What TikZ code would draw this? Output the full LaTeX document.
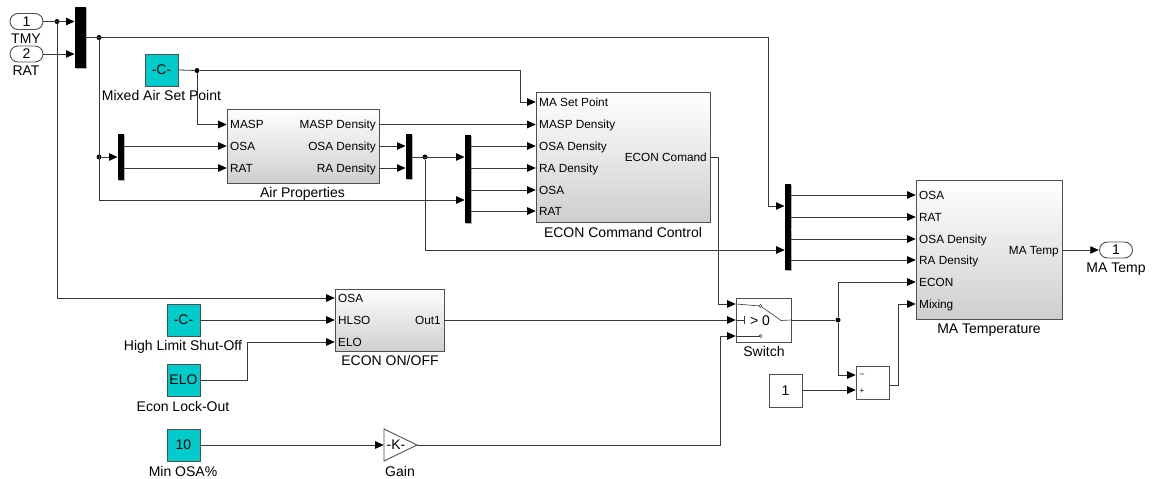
\documentclass[tikz,border=0pt]{standalone}
\usepackage{fontspec}
\setmainfont{Liberation Sans}
\usetikzlibrary{arrows.meta,shadows,shapes.misc}
\definecolor{teal2}{RGB}{0,204,204}
\definecolor{edge}{RGB}{80,80,80}
\definecolor{wirec}{RGB}{55,55,55}
\tikzset{
  wire/.style={draw=wirec,line width=0.8pt,line join=miter},
  arr/.style={wire,-{Triangle[length=8.5pt,width=7.5pt,fill=black,color=black]},shorten >=0.3pt},
  shd/.style={drop shadow={shadow xshift=1.2pt,shadow yshift=-1.2pt,fill=black!55,opacity=.55}},
  blk/.style={draw=edge,line width=0.9pt,inner sep=0pt,top color=white,middle color=white,bottom color=black!19,shd},
  cst/.style={draw=edge,line width=0.9pt,inner sep=0pt,fill=teal2,shd},
  plain/.style={draw=edge,line width=0.9pt,inner sep=0pt,fill=white,shd},
  mux/.style={fill=black,inner sep=0pt,shd},
  portl/.style={inner sep=0pt,font=\fontsize{11.8}{12}\selectfont},
  title/.style={inner sep=0pt,anchor=base,yshift=-5pt,font=\fontsize{14}{14}\selectfont},
  midtext/.style={inner sep=0pt,font=\fontsize{14}{14}\selectfont},
  iop/.style={rounded rectangle,draw=edge,line width=0.9pt,fill=white,inner sep=0pt,minimum width=33pt,minimum height=16pt,font=\fontsize{14}{14}\selectfont},
  dot/.style={circle,fill=black,inner sep=0pt,minimum size=5pt},
}
\newcommand\bx[7][]{\node[#2,minimum width={(#5-#3)*1pt},minimum height={(#6-#4)*1pt},#1] (#7) at ({(#3+#5)/2},{(#4+#6)/2}) {};}
\newcommand\pinL[4]{\coordinate (#1) at (#2,#3); \node[portl,anchor=base west,yshift=-4.2pt] (#1L) at (#2+3,#3) {#4};}
\newcommand\pinR[4]{\coordinate (#1) at (#2,#3); \node[portl,anchor=base east,yshift=-4.2pt] (#1L) at (#2-3,#3) {#4};}
\begin{document}
\begin{tikzpicture}[x=1pt,y=-1pt]
\useasboundingbox (0,0) rectangle (1152,479);
% inports
\node[iop] (in1) at (26.5,21.5) {1};
\node[iop] (in2) at (26.5,54) {2};
\node[title] (in1t) at (26,38.3) {TMY};
\node[title] (in2t) at (26,70.7) {RAT};
% muxes
\bx{mux}{75}{7}{86}{68}{m1}
\bx{mux}{118}{134}{124}{180}{m2}
\bx{mux}{406}{134}{412}{179}{m3}
\bx{mux}{465}{135}{471}{223}{m4}
\bx{mux}{785}{184}{791}{227.7}{m5}
\bx{mux}{785}{228.3}{791}{270}{m6}
% constants
\bx{cst}{145}{54}{178}{86}{c1}
\node[midtext] (c1l) at (c1) {-C-};
\node[title] (c1t) at (161.5,95.7) {Mixed Air Set Point};
\bx{cst}{167}{304}{200}{336}{c2}
\node[midtext] (c2l) at (c2) {-C-};
\node[title] (c2t) at (183,345.7) {High Limit Shut-Off};
\bx{cst}{167}{364}{200}{396}{c3}
\node[midtext] (c3l) at (c3) {ELO};
\node[title] (c3t) at (183,406) {Econ Lock-Out};
\bx{cst}{167}{429}{200}{461}{c4}
\node[midtext] (c4l) at (c4) {10};
\node[title] (c4t) at (183,471) {Min OSA\%};
% Air Properties
\bx{blk}{227}{109}{379}{183}{air}
\pinL{aA}{227}{124.5}{MASP}
\pinL{aB}{227}{146}{OSA}
\pinL{aC}{227}{168}{RAT}
\pinR{aX}{379}{124.5}{MASP Density}
\pinR{aY}{379}{146}{OSA Density}
\pinR{aZ}{379}{168}{RA Density}
\node[title] (airt) at (302.5,192.5) {Air Properties};
% ECON Command Control
\bx{blk}{536}{92}{710}{222}{ecc}
\pinL{eA}{536}{102}{MA Set Point}
\pinL{eB}{536}{124.5}{MASP Density}
\pinL{eC}{536}{146}{OSA Density}
\pinL{eD}{536}{168}{RA Density}
\pinL{eE}{536}{190}{OSA}
\pinL{eF}{536}{211}{RAT}
\pinR{eX}{710}{157}{ECON Comand}
\node[title] (ecct) at (623,232) {ECON Command Control};
% MA Temperature
\bx{blk}{916}{180}{1062}{319}{mat}
\pinL{tA}{916}{195}{OSA}
\pinL{tB}{916}{217}{RAT}
\pinL{tC}{916}{239}{OSA Density}
\pinL{tD}{916}{260}{RA Density}
\pinL{tE}{916}{282}{ECON}
\pinL{tF}{916}{304}{Mixing}
\pinR{tX}{1062}{250}{MA Temp}
\node[title] (matt) at (989,328) {MA Temperature};
% ECON ON/OFF
\bx{blk}{335}{289}{444}{351}{eoo}
\pinL{oA}{335}{298}{OSA}
\pinL{oB}{335}{320}{HLSO}
\pinL{oC}{335}{342}{ELO}
\pinR{oX}{444}{320}{Out1}
\node[title] (eoot) at (390,360.5) {ECON ON/OFF};
% outport
\node[iop] (out) at (1116,250) {1};
\node[title] (outt) at (1116,267) {MA Temp};
% Gain
\coordinate (gIn) at (384,445);
\coordinate (gOut) at (417,445);
\draw[draw=edge,line width=0.9pt,fill=white,line join=miter] (384,429) -- (gOut) -- (384,461) -- cycle;
\node[midtext] (gaink) at (396,445) {-K-};
\node[title] (gaint) at (400,471) {Gain};
% Switch
\bx{plain}{736}{298}{791}{342}{sw}
\coordinate (sA) at (736,304);
\coordinate (sB) at (736,320);
\coordinate (sC) at (736,336);
\coordinate (sX) at (791,320);
\node[circle,draw=wirec,line width=.5pt,fill=white,inner sep=0pt,minimum size=3pt] (sT) at (760.5,306) {};
\node[circle,draw=wirec,line width=.5pt,fill=white,inner sep=0pt,minimum size=3pt] (sU) at (760.5,336) {};
\draw[wire,line width=.6pt] (sA) -- (sT);
\draw[wire,line width=.6pt] (sC) -- (sU);
\draw[wire,line width=.6pt] (sB) -- (744,320) (744,316) -- (744,324);
\draw[wire,line width=.6pt] (sX) -- (781,320.5) -- (sT);
\node[midtext] (swl) at (760,320.5) {> 0};
\node[title] (swt) at (764,351.3) {Switch};
% Sum and one
\bx{plain}{856}{366}{889}{399}{sum}
\coordinate (uA) at (856,375);
\coordinate (uB) at (856,390);
\coordinate (uX) at (889,385);
\node[inner sep=0pt,font=\fontsize{8}{8}\selectfont] (um) at (862,375) {–};
\node[inner sep=0pt,font=\fontsize{8}{8}\selectfont] (up) at (862,391) {+};
\bx{plain}{769}{374}{802}{407}{one}
\node[midtext] (onel) at (one) {1};
% junctions
\node[dot] (j1) at (57,21.5) {};
\node[dot] (j2) at (99,37.5) {};
\node[dot] (j3) at (99,157) {};
\node[dot] (j4) at (197,70.5) {};
\node[dot] (j5) at (425,157) {};
\node[dot] (j6) at (838,320) {};
% wires
\draw[arr] (in1.east) -- (in1.east -| m1.west);
\draw[arr] (in2.east) -- (in2.east -| m1.west);
\draw[arr] (j1) |- (oA);
\coordinate (v1) at (768,206);
\draw[arr] (m1.east |- j2) -| (v1) -- (v1 -| m5.west);
\coordinate (h1) at (465,200);
\draw[arr] (j2) |- (h1);
\draw[arr] (j3) -- (j3 -| m2.west);
\draw[arr] (m2.east |- aB) -- (aB);
\draw[arr] (m2.east |- aC) -- (aC);
\draw[wire] (c1.east) -- (j4);
\draw[arr] (j4) -- (520,70.5) |- (eA);
\draw[arr] (j4) |- (aA);
\draw[arr] (aX) -- (eB);
\draw[arr] (aY) -- (aY -| m3.west);
\draw[arr] (aZ) -- (aZ -| m3.west);
\draw[arr] (m3.east |- j5) -- (j5 -| m4.west);
\coordinate (h2) at (785,250);
\draw[arr] (j5) |- (h2);
\draw[arr] (m4.east |- eC) -- (eC);
\draw[arr] (m4.east |- eD) -- (eD);
\draw[arr] (m4.east |- eE) -- (eE);
\draw[arr] (m4.east |- eF) -- (eF);
\draw[arr] (eX) -- (718,157) |- (sA);
\draw[arr] (m5.east |- tA) -- (tA);
\draw[arr] (m5.east |- tB) -- (tB);
\draw[arr] (m6.east |- tC) -- (tC);
\draw[arr] (m6.east |- tD) -- (tD);
\draw[arr] (tX) -- (out.west);
\draw[arr] (c2.east |- oB) -- (oB);
\draw[arr] (c3.east) -- (247,380) |- (oC);
\draw[arr] (c4.east) -- (gIn);
\draw[arr] (gOut) -- (720,445) |- (sC);
\draw[arr] (oX) -- (sB);
\draw[wire] (sX) -- (j6);
\draw[arr] (j6) |- (tE);
\draw[arr] (j6) |- (uA);
\draw[arr] (one.east |- uB) -- (uB);
\draw[arr] (uX) -- (898,385) |- (tF);
\end{tikzpicture}
\end{document}
